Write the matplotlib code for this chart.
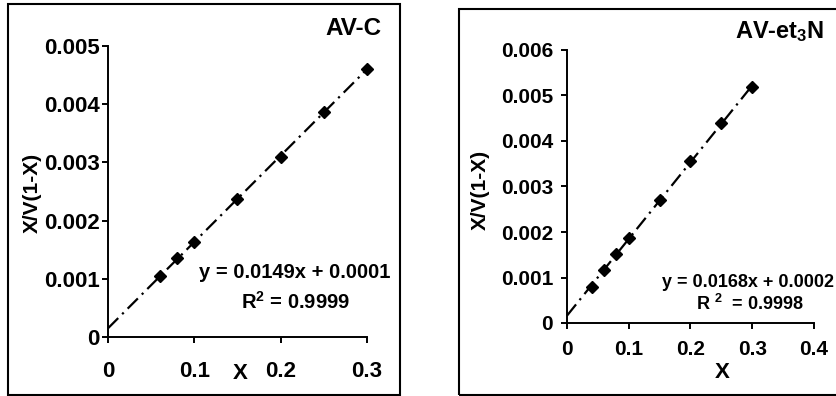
import numpy as np
import matplotlib
matplotlib.use("Agg")
import matplotlib.pyplot as plt
from matplotlib.patches import Rectangle

plt.rcParams['font.family'] = ['Liberation Sans', 'DejaVu Sans']
plt.rcParams['font.weight'] = 'bold'
plt.rcParams['mathtext.fontset'] = 'custom'
plt.rcParams['mathtext.rm'] = 'Liberation Sans:bold'
plt.rcParams['mathtext.bf'] = 'Liberation Sans:bold'
plt.rcParams['mathtext.default'] = 'bf'

# AV-C
x_c = [0.06, 0.08, 0.10, 0.15, 0.20, 0.25, 0.30]
y_c = [0.00104, 0.00135, 0.00163, 0.00237, 0.00310, 0.00386, 0.00461]
# AV-et3N
x_e = [0.04, 0.06, 0.08, 0.10, 0.15, 0.20, 0.25, 0.30]
y_e = [0.00079, 0.00117, 0.00152, 0.00187, 0.00271, 0.00356, 0.00439, 0.00518]

xticks_c = [0, 0.1, 0.2, 0.3]
yticks_c = [0, 0.001, 0.002, 0.003, 0.004, 0.005]
xticks_e = [0, 0.1, 0.2, 0.3, 0.4]
yticks_e = [0, 0.001, 0.002, 0.003, 0.004, 0.005, 0.006]


def fmt(v):
    return '0' if v == 0 else ('%.3f' % v if v < 0.01 else '%.1f' % v)


fig = plt.figure(figsize=(8.37, 3.96), dpi=100)

# outer frames
fig.patches.append(Rectangle((8 / 837, 1 / 396), 392 / 837, 391 / 396, transform=fig.transFigure,
                             fill=False, lw=1.5, ec='black'))
fig.patches.append(Rectangle((459 / 837, 1 / 396), 400 / 837, 386 / 396, transform=fig.transFigure,
                             fill=False, lw=1.5, ec='black'))


def panel(rect, xs, ys, xticks, yticks, xlim, ylim, tsize, xpad, ypad):
    ax = fig.add_axes(rect)
    k, b = np.polyfit(xs, ys, 1)
    lx = np.array([0, xs[-1]])
    ax.plot(lx, k * lx + b, color='black', lw=1.6, linestyle=(0, (6.5, 2.5, 1, 2.5)), clip_on=False)
    ax.plot(xs, ys, 'D', color='black', ms=6.3, clip_on=False)
    ax.set_xlim(*xlim)
    ax.set_ylim(*ylim)
    ax.set_xticks(xticks)
    ax.set_xticklabels([fmt(v) for v in xticks])
    ax.set_yticks(yticks)
    ax.set_yticklabels([fmt(v) for v in yticks])
    for s in ['top', 'right']:
        ax.spines[s].set_visible(False)
    for s in ['left', 'bottom']:
        ax.spines[s].set_linewidth(1.4)
    ax.tick_params(axis='both', direction='out', length=4, width=1.4, labelsize=tsize)
    ax.tick_params(axis='x', pad=xpad)
    ax.tick_params(axis='y', pad=ypad)
    return ax


ax1 = panel([108 / 837, 59 / 396, 259 / 837, 291 / 396], x_c, y_c, xticks_c, yticks_c,
            (0, 0.3), (0, 0.005), 16, 13, 2)
ax1.set_xlabel('X', fontsize=16, fontweight='bold', va='center')
ax1.xaxis.set_label_coords(0.51, -0.124)
ax1.set_ylabel('X/V(1-X)', fontsize=15, fontweight='bold', va='center')
ax1.yaxis.set_label_coords(-0.293, 0.495)
ax1.text(0.946, 1.061, 'AV-C', transform=ax1.transAxes, ha='center', va='center',
         fontsize=17.5, fontweight='bold')
ax1.text(0.722, 0.22, 'y = 0.0149x + 0.0001', transform=ax1.transAxes, ha='center', va='center',
         fontsize=14.5, fontweight='bold')
ax1.text(0.722, 0.12, 'R$^2$ = 0.9999', transform=ax1.transAxes, ha='center', va='center',
         fontsize=14.5, fontweight='bold')

ax2 = panel([567 / 837, 73 / 396, 247 / 837, 273 / 396], x_e, y_e, xticks_e, yticks_e,
            (0, 0.4), (0, 0.006), 15, 8, 6)
ax2.set_xlabel('X', fontsize=16, fontweight='bold', va='center')
ax2.xaxis.set_label_coords(0.628, -0.18)
ax2.set_ylabel('X/V(1-X)', fontsize=15, fontweight='bold', va='center')
ax2.yaxis.set_label_coords(-0.352, 0.487)
ax2.text(0.862, 1.066, 'AV-et$_3$N', transform=ax2.transAxes, ha='center', va='center',
         fontsize=17, fontweight='bold')
ax2.text(0.733, 0.147, 'y = 0.0168x + 0.0002', transform=ax2.transAxes, ha='center', va='center',
         fontsize=13, fontweight='bold', clip_on=False)
ax2.text(0.74, 0.069, 'R $^2$  = 0.9998', transform=ax2.transAxes, ha='center', va='center',
         fontsize=13, fontweight='bold')

fig.savefig('out.png', dpi=100)
